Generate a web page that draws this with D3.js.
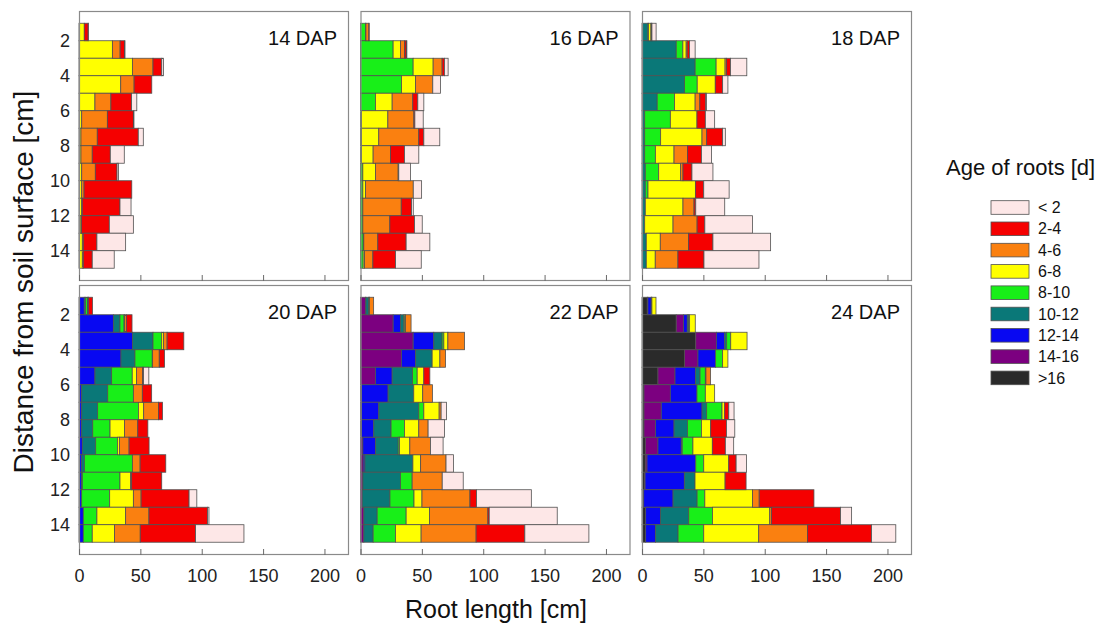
<!DOCTYPE html>
<html>
<head>
<meta charset="utf-8">
<script src="https://cdn.jsdelivr.net/npm/d3@7"></script>
<style>
  body { margin: 0; background: #fff; }
  svg { display: block; font-family: "Liberation Sans", Arial, sans-serif; }
</style>
</head>
<body>
<svg id="chart" width="1101" height="628"></svg>
<script>
// Soil depth layers (cm); each bar spans one 1-cm layer
const depths = d3.range(1, 15);

// Root age classes, stacked from oldest (left) to youngest (right)
const ageClasses = [">16", "14-16", "12-14", "10-12", "8-10", "6-8", "4-6", "2-4", "< 2"];
const classColors = ["#2a2a2a", "#7c0080", "#0808f2", "#0a7878", "#18ef18", "#ffff00", "#fa8010", "#f50000", "#fde7e7"];

// Root length [cm] per depth layer and age class
const dap14 = {
  "6-8": [4.3, 27.2, 43.5, 34.0, 13.0, 2.2, 1.6, 1.6, 2.2, 2.2, 2.2, 1.6, 2.7, 2.7],
  "4-6": [0, 6.3, 16.8, 10.9, 13.0, 20.9, 13.3, 9.2, 11.1, 1.9, 0.5, 0.5, 0.8, 0.8],
  "2-4": [3.2, 3.5, 7.1, 14.4, 16.8, 21.2, 33.4, 14.7, 17.7, 38.9, 30.7, 22.6, 11.1, 7.3],
  "< 2": [0.3, 0.5, 1.4, 0, 4.3, 0.5, 4.1, 11.4, 1.1, 0, 9.0, 19.6, 23.4, 17.9]
};
const dap16 = {
  "8-10": [4.1, 26.6, 42.9, 33.4, 12.2, 0.8, 0.8, 0.8, 1.9, 1.9, 1.9, 1.9, 2.2, 2.2],
  "6-8": [0.3, 6.0, 16.3, 11.4, 13.6, 21.5, 14.1, 9.5, 10.3, 2.2, 0, 0, 0.5, 1.1],
  "4-6": [2.4, 3.3, 7.3, 14.1, 16.8, 21.2, 32.6, 14.1, 18.5, 38.9, 31.3, 22.0, 11.4, 6.8],
  "2-4": [0.3, 1.4, 1.9, 0, 4.1, 0.8, 4.1, 11.4, 0.5, 0, 8.4, 20.1, 23.1, 18.5],
  "< 2": [0, 0.5, 3.0, 6.3, 4.9, 6.8, 13.0, 11.7, 9.5, 6.8, 1.4, 6.3, 19.3, 20.9]
};
const dap18 = {
  "10-12": [4.8, 27.9, 43.3, 34.7, 12.4, 2.2, 2.2, 2.2, 2.7, 2.7, 2.7, 2.2, 3.5, 3.5],
  "8-10": [0.5, 5.4, 17.1, 10.3, 14.1, 20.9, 13.0, 8.7, 10.9, 2.2, 0, 0, 0, 0],
  "6-8": [2.0, 2.7, 7.3, 14.7, 16.8, 21.7, 33.7, 15.2, 17.9, 38.6, 30.7, 23.1, 11.4, 7.3],
  "4-6": [0.3, 0.8, 1.1, 0, 3.8, 0, 3.8, 10.9, 1.9, 0, 9.0, 19.6, 23.1, 18.5],
  "2-4": [0.5, 1.9, 3.3, 6.0, 4.9, 6.8, 13.0, 11.4, 7.3, 6.8, 1.4, 6.3, 19.8, 21.2],
  "< 2": [3.4, 4.6, 13.3, 4.3, 0.5, 7.6, 2.2, 8.2, 17.1, 20.7, 23.6, 38.9, 47.0, 44.8]
};
const dap20 = {
  "12-14": [4.3, 28.0, 43.5, 34.2, 13.0, 2.2, 2.2, 2.2, 2.7, 2.2, 2.2, 2.2, 3.5, 3.5],
  "10-12": [1.1, 5.4, 16.8, 11.4, 13.6, 21.2, 13.0, 9.0, 10.9, 2.2, 0.5, 0, 0, 0],
  "8-10": [1.6, 3.3, 7.1, 14.1, 16.8, 20.9, 33.2, 14.1, 17.7, 39.1, 30.7, 22.8, 11.1, 7.3],
  "6-8": [0.5, 0.5, 1.4, 0.3, 3.5, 0, 4.3, 11.7, 1.6, 0, 8.7, 19.3, 23.4, 18.2],
  "4-6": [0.3, 1.4, 3.0, 5.4, 4.9, 7.3, 12.0, 10.9, 7.9, 6.3, 0.8, 6.3, 19.0, 20.9],
  "2-4": [3.2, 4.6, 13.6, 4.3, 0.8, 7.6, 3.3, 8.2, 16.3, 20.9, 24.5, 39.1, 47.8, 45.1],
  "< 2": [0, 0, 0, 0, 4.3, 0, 0, 0, 0, 0, 0, 6.3, 1.1, 39.4]
};
const dap22 = {
  "14-16": [4.1, 26.6, 42.9, 33.4, 12.2, 0.8, 0.8, 0.8, 1.9, 2.2, 1.9, 1.4, 2.7, 2.7],
  "12-14": [0.3, 6.0, 16.8, 11.4, 13.6, 21.7, 14.1, 10.0, 10.3, 1.4, 0, 0, 0, 0],
  "10-12": [2.2, 2.7, 6.8, 13.6, 16.6, 20.9, 32.6, 14.1, 18.5, 39.1, 30.7, 22.6, 10.9, 7.6],
  "8-10": [0.5, 0.8, 1.4, 0, 3.8, 0, 4.1, 10.9, 1.1, 0, 9.5, 19.6, 23.6, 18.2],
  "6-8": [0.3, 0.5, 3.3, 6.3, 5.4, 7.3, 12.5, 11.7, 8.4, 6.3, 0, 6.5, 19.0, 20.9],
  "4-6": [3.3, 4.6, 13.6, 4.6, 0, 7.9, 1.6, 7.6, 16.8, 20.7, 24.5, 39.1, 47.6, 44.8],
  "2-4": [0, 0, 0, 0, 4.9, 0, 0, 0, 0, 0, 0, 5.4, 1.1, 39.7],
  "< 2": [0, 0, 0, 0, 0, 0, 4.3, 13.3, 10.3, 6.0, 17.1, 44.6, 55.4, 52.2]
};
const dap24 = {
  ">16": [4.3, 27.9, 43.8, 34.7, 13.0, 1.6, 1.6, 1.6, 2.7, 2.7, 2.2, 1.4, 3.0, 3.0],
  "14-16": [0.5, 6.0, 16.8, 10.9, 13.9, 21.5, 14.1, 9.5, 10.3, 1.4, 0.3, 0, 0, 0],
  "12-14": [2.7, 3.0, 6.8, 14.4, 16.6, 21.7, 33.2, 15.0, 19.0, 39.7, 32.0, 23.9, 12.0, 7.9],
  "10-12": [0.3, 1.0, 1.6, 0, 3.8, 0, 3.8, 10.9, 0.8, 0, 8.7, 19.6, 23.1, 18.5],
  "8-10": [0.3, 0.9, 3.3, 5.7, 4.3, 6.8, 12.5, 11.4, 8.7, 6.5, 0, 6.3, 19.3, 20.9],
  "6-8": [3.3, 4.6, 13.3, 4.3, 0.5, 7.6, 2.2, 7.6, 15.8, 20.4, 24.5, 38.9, 46.7, 44.8],
  "4-6": [0, 0, 0, 0, 3.8, 0, 0, 0, 0, 0, 0, 5.4, 1.4, 39.7],
  "2-4": [0, 0, 0, 0, 0, 0, 3.3, 12.8, 10.6, 6.0, 17.1, 44.6, 56.3, 52.2],
  "< 2": [0, 0, 0, 0, 0, 0, 4.3, 6.8, 6.8, 8.4, 0, 0, 9.0, 19.8]
};

const panelTitles = ["14 DAP", "16 DAP", "18 DAP", "20 DAP", "22 DAP", "24 DAP"];
const panelData = [dap14, dap16, dap18, dap20, dap22, dap24];
const xTicks = [0, 50, 100, 150, 200];
const yTicks = [2, 4, 6, 8, 10, 12, 14];

const svg = d3.select("#chart");
const panelW = 270, panelH = 270;
const panelX0 = [79, 360.5, 642];
const panelY0 = [11, 285];

const x = d3.scaleLinear().domain([0, 220]).range([0, panelW]);
const y = d3.scaleLinear().domain([0.3, 15.73]).range([0, panelH]);
const color = d3.scaleOrdinal().domain(ageClasses).range(classColors);

panelData.forEach((data, k) => {
  const col = k % 3, row = Math.floor(k / 3);
  const g = svg.append("g")
    .attr("transform", `translate(${panelX0[col]},${panelY0[row]})`);

  const rows = depths.map((d, i) => {
    const r = { depth: d };
    ageClasses.forEach(c => { r[c] = data[c] ? data[c][i] : 0; });
    return r;
  });
  const series = d3.stack().keys(ageClasses)(rows);

  series.forEach(s => {
    g.append("g")
      .selectAll("rect")
      .data(s.filter(p => p[1] - p[0] > 0))
      .join("rect")
      .attr("x", p => x(p[0]))
      .attr("width", p => x(p[1]) - x(p[0]))
      .attr("y", p => y(p.data.depth))
      .attr("height", p => y(p.data.depth + 1) - y(p.data.depth))
      .attr("fill", color(s.key))
      .attr("stroke", "#505050")
      .attr("stroke-width", 0.8);
  });

  // panel frame
  g.append("rect")
    .attr("x", 0.5).attr("y", 0.5)
    .attr("width", panelW - 1).attr("height", panelH - 1)
    .attr("fill", "none")
    .attr("stroke", "#8a8a8a")
    .attr("stroke-width", 1.2);

  // inward ticks along the bottom edge
  const xAxis = d3.axisBottom(x)
    .tickValues(xTicks)
    .tickSizeInner(-6)
    .tickSizeOuter(0)
    .tickPadding(14)
    .tickFormat(row === 1 ? d3.format("d") : () => "");
  const xa = g.append("g")
    .attr("transform", `translate(0,${panelH})`)
    .call(xAxis);
  xa.select(".domain").remove();
  xa.selectAll(".tick line").attr("stroke", "#6a6a6a");
  xa.selectAll("text")
    .attr("font-family", "Liberation Sans, Arial, sans-serif")
    .attr("font-size", 18)
    .attr("fill", "#222");

  if (col === 0) {
    const ya = g.append("g")
      .call(d3.axisLeft(y).tickValues(yTicks).tickSize(0).tickPadding(9));
    ya.select(".domain").remove();
    ya.selectAll("text")
      .attr("font-family", "Liberation Sans, Arial, sans-serif")
      .attr("font-size", 18)
      .attr("fill", "#222");
  }

  g.append("text")
    .attr("x", panelW - 12)
    .attr("y", 34)
    .attr("text-anchor", "end")
    .attr("font-size", 20)
    .attr("fill", "#111")
    .text(panelTitles[k]);
});

// axis titles
svg.append("text")
  .attr("x", 496)
  .attr("y", 618)
  .attr("text-anchor", "middle")
  .attr("font-size", 25)
  .attr("fill", "#111")
  .text("Root length [cm]");

svg.append("text")
  .attr("transform", "translate(33,282) rotate(-90)")
  .attr("text-anchor", "middle")
  .attr("font-size", 28)
  .attr("fill", "#111")
  .text("Distance from soil surface [cm]");

// legend, youngest class first
const legend = svg.append("g").attr("transform", "translate(946,0)");
legend.append("text")
  .attr("x", 0)
  .attr("y", 175)
  .attr("font-size", 22)
  .attr("fill", "#111")
  .text("Age of roots [d]");

const legendItems = ageClasses.slice().reverse();
const li = legend.selectAll("g.item")
  .data(legendItems)
  .join("g")
  .attr("class", "item")
  .attr("transform", (d, i) => `translate(45,${200.7 + i * 21.3})`);
li.append("rect")
  .attr("width", 38)
  .attr("height", 13.6)
  .attr("fill", d => color(d))
  .attr("stroke", "#505050")
  .attr("stroke-width", 0.8);
li.append("text")
  .attr("x", 47)
  .attr("y", 6.8)
  .attr("dy", "0.35em")
  .attr("font-size", 16)
  .attr("fill", "#111")
  .text(d => d);
</script>
</body>
</html>
